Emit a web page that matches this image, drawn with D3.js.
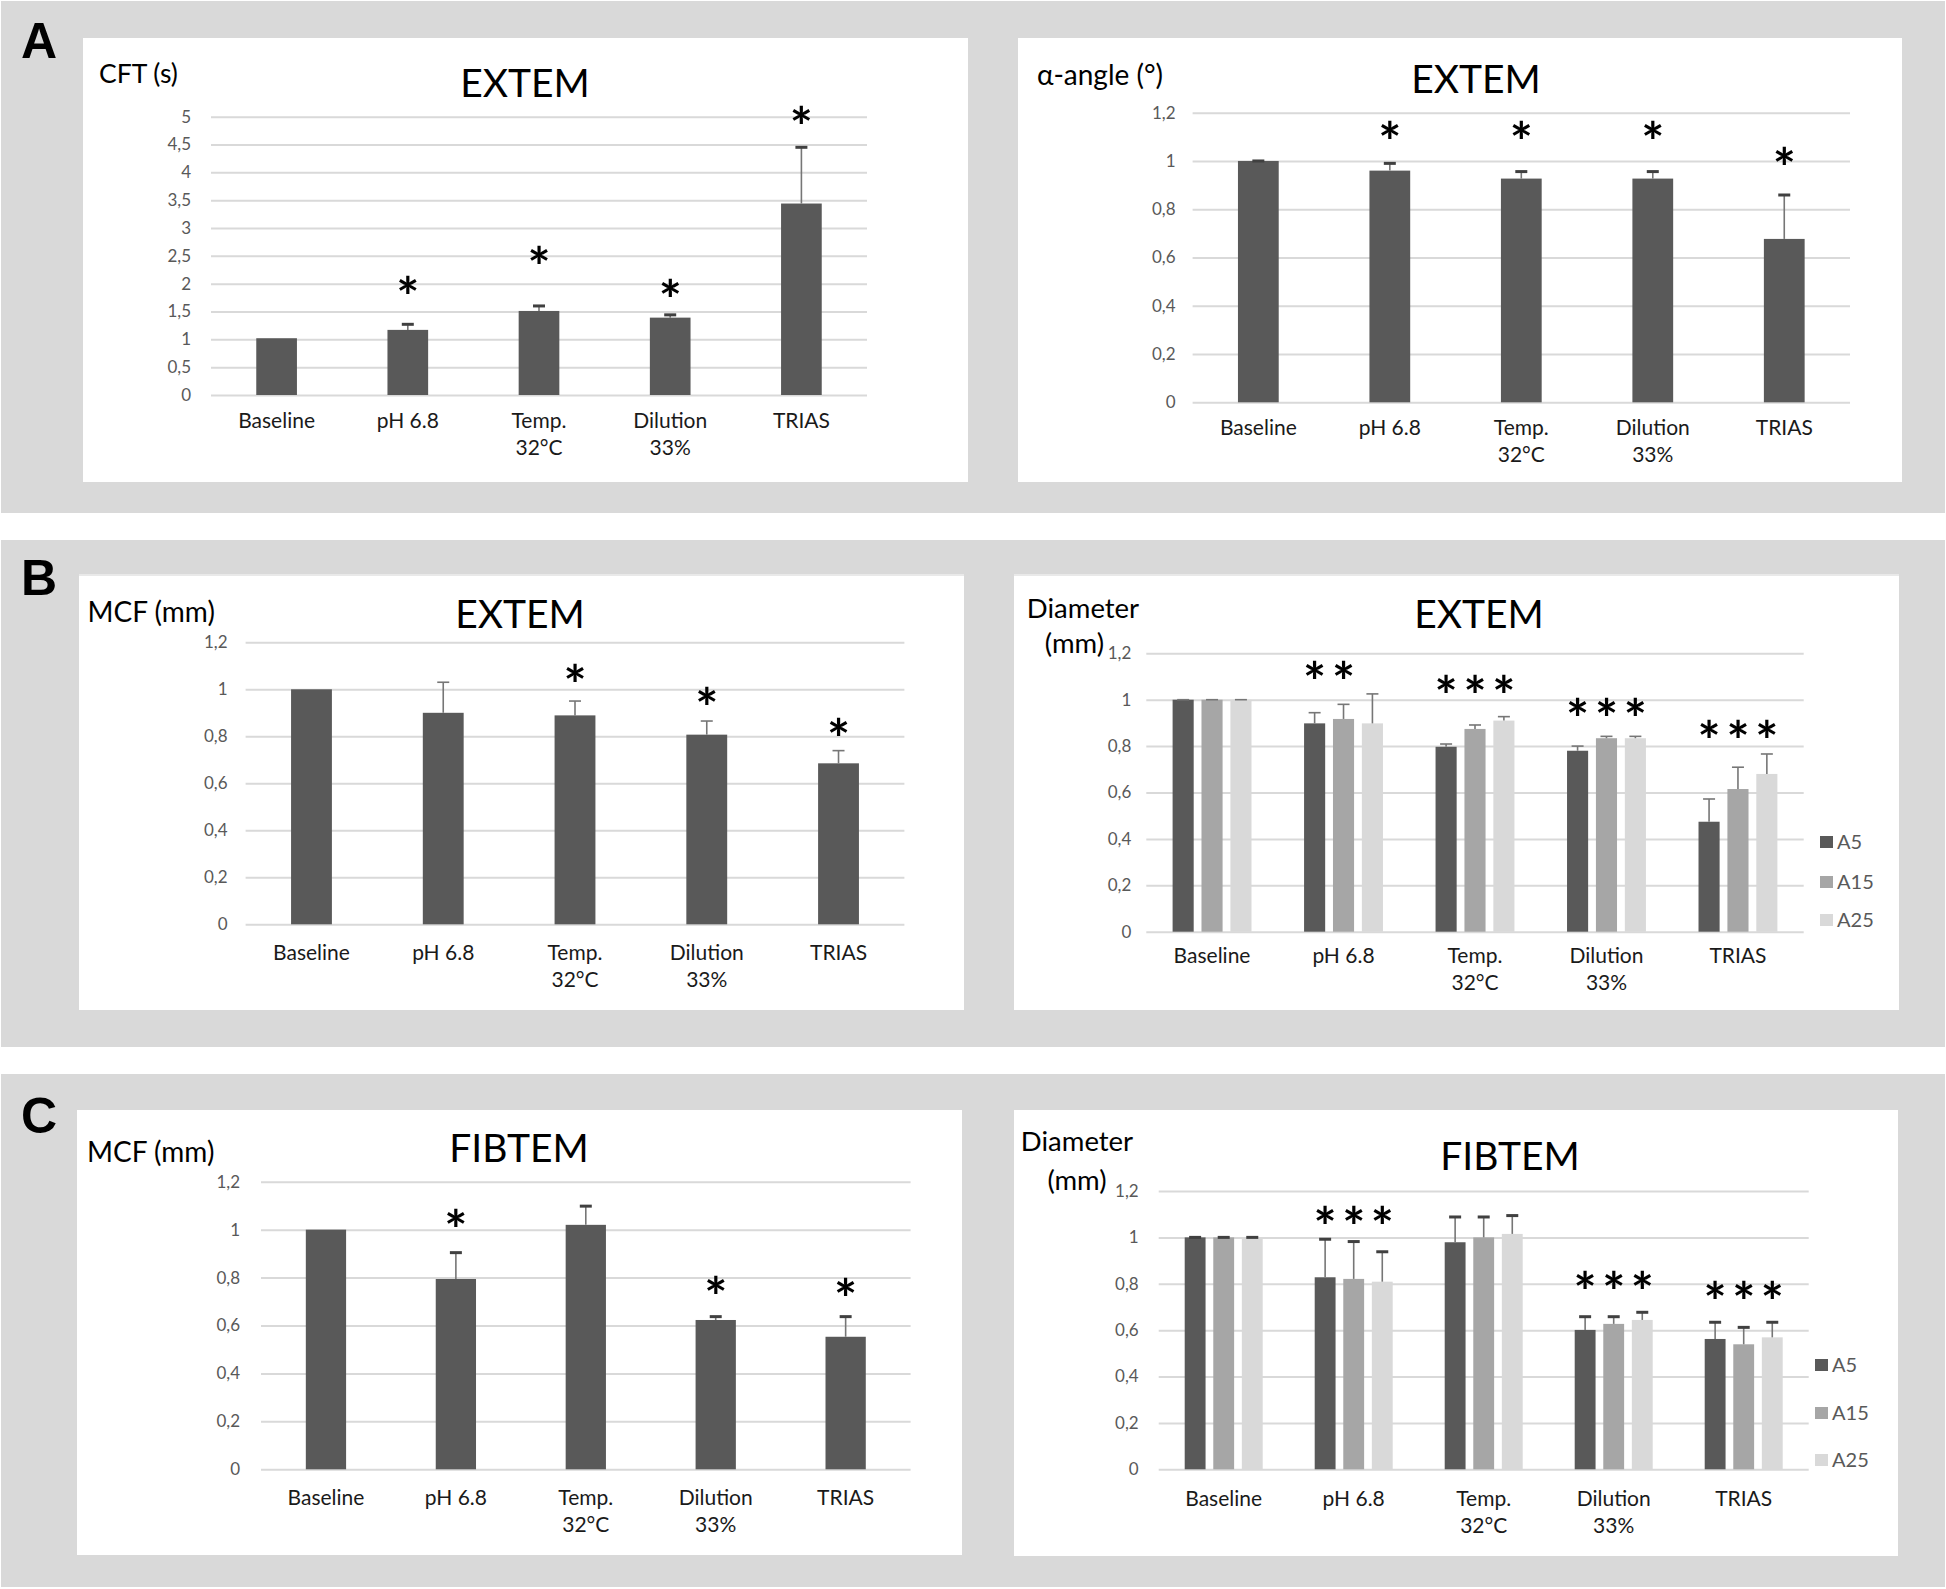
<!DOCTYPE html>
<html><head><meta charset="utf-8">
<script src="https://cdn.jsdelivr.net/npm/d3@7"></script>
<style>body{margin:0;background:#fff}</style>
</head><body><svg id="fig" width="1946" height="1589"></svg>
<script>
// ---------------- DATA ----------------
const categories = ["Baseline", "pH 6.8", "Temp.\n32°C", "Dilution\n33%", "TRIAS"];
const seriesNames = ["A5", "A15", "A25"];
const panelLetters = ["A", "B", "C"];
const cftTicks = [0, 0.5, 1, 1.5, 2, 2.5, 3, 3.5, 4, 4.5, 5];
const ratioTicks = [0, 0.2, 0.4, 0.6, 0.8, 1, 1.2];

// A left: EXTEM CFT (s)
const cftMean = [1.02, 1.17, 1.51, 1.39, 3.44];
const cftSD   = [null, 0.10, 0.09, 0.05, 1.01];
const cftStar = [null, 1.97, 2.51, 1.92, 5.03];

// A right: EXTEM alpha-angle
const alphaMean = [1.0, 0.96, 0.927, 0.927, 0.677];
const alphaSD   = [0.0, 0.03, 0.029, 0.029, 0.182];
const alphaStar = [null, 1.13, 1.13, 1.13, 1.02];

// B left: EXTEM MCF (mm)
const mcfExMean = [1.0, 0.90, 0.889, 0.807, 0.685];
const mcfExSD   = [null, 0.13, 0.061, 0.058, 0.054];
const mcfExStar = [null, null, 1.07, 0.97, 0.84];

// B right: EXTEM Diameter (mm), series A5 / A15 / A25
const diaExA5   = [1.0, 0.898, 0.797, 0.78, 0.474];
const diaExA5SD = [0.0, 0.046, 0.012, 0.02, 0.098];
const diaExA5Star = [null, 1.13, 1.066, 0.97, 0.874];
const diaExA15   = [1.0, 0.917, 0.874, 0.834, 0.615];
const diaExA15SD = [0.0, 0.063, 0.017, 0.008, 0.094];
const diaExA15Star = [null, 1.13, 1.066, 0.97, 0.874];
const diaExA25   = [1.0, 0.898, 0.91, 0.834, 0.68];
const diaExA25SD = [0.0, 0.127, 0.017, 0.008, 0.086];
const diaExA25Star = [null, null, 1.066, 0.97, 0.874];

// C left: FIBTEM MCF (mm)
const mcfFibMean = [1.0, 0.794, 1.02, 0.623, 0.553];
const mcfFibSD   = [null, 0.11, 0.078, 0.014, 0.084];
const mcfFibStar = [null, 1.047, null, 0.769, 0.762];

// C right: FIBTEM Diameter (mm)
const diaFibA5   = [1.0, 0.828, 0.979, 0.601, 0.562];
const diaFibA5SD = [0.0, 0.164, 0.109, 0.057, 0.072];
const diaFibA5Star = [null, 1.097, null, 0.816, 0.773];
const diaFibA15   = [1.0, 0.821, 1.0, 0.627, 0.539];
const diaFibA15SD = [0.0, 0.161, 0.088, 0.031, 0.073];
const diaFibA15Star = [null, 1.097, null, 0.816, 0.773];
const diaFibA25   = [1.0, 0.809, 1.015, 0.644, 0.569];
const diaFibA25SD = [0.0, 0.129, 0.079, 0.033, 0.065];
const diaFibA25Star = [null, 1.097, null, 0.816, 0.773];

// ---------------- STYLE / LAYOUT ----------------
const FONT = "Lato, 'Open Sans', 'DejaVu Sans', sans-serif";
const STAR_FONT = "Lato, 'DejaVu Sans', sans-serif";
const colors = {A5: "#595959", A15: "#a6a6a6", A25: "#d9d9d9"};
const fmtComma = d => String(d).replace(".", ",");

const svg = d3.select("#fig");
svg.append("rect").attr("width", 1946).attr("height", 1589).attr("fill", "#fff");

const rows = [[1, 513], [540, 1047], [1074, 1587]];
const letterBaselines = [58, 595, 1133];
rows.forEach((r, i) => {
  svg.append("rect").attr("x", 1).attr("y", r[0]).attr("width", 1944).attr("height", r[1] - r[0]).attr("fill", "#d9d9d9");
  svg.append("text").attr("x", 21).attr("y", letterBaselines[i])
    .attr("font-family", "'Liberation Sans', Arial, sans-serif").attr("font-weight", "bold")
    .attr("font-size", 50).attr("fill", "#000").text(panelLetters[i]);
});

// star glyph calibration (glyph height ~18px, centred on value)
const ctx = document.createElement("canvas").getContext("2d");
ctx.font = `bold 100px ${STAR_FONT}`;
const m100 = ctx.measureText("*");
const starH100 = m100.actualBoundingBoxAscent + m100.actualBoundingBoxDescent;
const STAR_SIZE = 18.5 / starH100 * 100;
const starShift = (m100.actualBoundingBoxAscent - m100.actualBoundingBoxDescent) / 2 * STAR_SIZE / 100;

function drawChart(cfg) {
  const g = svg.append("g");
  const b = cfg.box;
  g.append("rect").attr("x", b[0]).attr("y", b[1]).attr("width", b[2] - b[0]).attr("height", b[3] - b[1]).attr("fill", "#fff");
  if (cfg.topLine) g.append("line").attr("x1", b[0]).attr("x2", b[2]).attr("y1", b[1] + 1).attr("y2", b[1] + 1).attr("stroke", "#e2e2e2").attr("stroke-width", 1.5);

  const p = cfg.plot;
  const x = d3.scaleBand().domain(categories).range([p.x0, p.x1]);
  const n = cfg.series.length;
  const groupW = x.bandwidth() * (n === 1 ? 0.31 : 0.6);
  const xi = d3.scaleBand().domain(cfg.series.map(s => s.name)).range([-groupW / 2, groupW / 2]).paddingInner(n === 1 ? 0 : 0.27);
  const y = d3.scaleLinear().domain([0, d3.max(cfg.ticks)]).range([p.yZero, p.yTop]);
  const cx = (c, name) => x(c) + x.bandwidth() / 2 + xi(name) + xi.bandwidth() / 2;

  const ax = g.append("g").attr("transform", `translate(${p.x0},0)`)
    .call(d3.axisLeft(y).tickValues(cfg.ticks).tickFormat(fmtComma).tickSize(-(p.x1 - p.x0)).tickPadding(cfg.tickPad));
  ax.select(".domain").remove();
  ax.selectAll(".tick line").attr("stroke", "#d9d9d9").attr("stroke-width", 2);
  ax.selectAll(".tick text").attr("fill", "#595959").attr("font-size", 17).attr("font-family", FONT);

  // bars
  cfg.series.forEach(s => {
    g.append("g").selectAll("rect")
      .data(categories.map((c, i) => ({c, v: s.mean[i]})))
      .join("rect")
      .attr("x", d => x(d.c) + x.bandwidth() / 2 + xi(s.name))
      .attr("width", xi.bandwidth())
      .attr("y", d => y(d.v))
      .attr("height", d => y(0) - y(d.v))
      .attr("fill", s.color);
  });
  // error bars
  cfg.series.forEach(s => {
    const eg = g.append("g");
    const ed = categories.map((c, i) => ({c, v: s.mean[i], sd: s.sd[i]})).filter(d => d.sd !== null);
    eg.selectAll("line.v").data(ed).join("line").attr("class", "v")
      .attr("x1", d => cx(d.c, s.name)).attr("x2", d => cx(d.c, s.name))
      .attr("y1", d => y(d.v)).attr("y2", d => y(d.v + d.sd))
      .attr("stroke", "#767676").attr("stroke-width", 1.6);
    eg.selectAll("line.cap").data(ed).join("line").attr("class", "cap")
      .attr("x1", d => cx(d.c, s.name) - 6).attr("x2", d => cx(d.c, s.name) + 6)
      .attr("y1", d => y(d.v + d.sd)).attr("y2", d => y(d.v + d.sd))
      .attr("stroke", cfg.capColor).attr("stroke-width", cfg.capWidth);
  });
  // significance stars
  cfg.series.forEach(s => {
    g.append("g").selectAll("text")
      .data(categories.map((c, i) => ({c, st: s.star[i]})).filter(d => d.st !== null))
      .join("text")
      .attr("x", d => cx(d.c, s.name)).attr("y", d => y(d.st) + starShift)
      .attr("text-anchor", "middle").attr("font-family", STAR_FONT).attr("font-weight", "bold")
      .attr("font-size", STAR_SIZE).attr("fill", "#000").text("*");
  });
  // category labels
  const cl = g.append("g").selectAll("text").data(categories).join("text")
    .attr("x", c => x(c) + x.bandwidth() / 2).attr("y", p.yZero + cfg.catOff)
    .attr("text-anchor", "middle").attr("font-family", FONT).attr("font-size", 21).attr("fill", "#1a1a1a");
  cl.selectAll("tspan").data(c => c.split("\n").map(t => ({t, x: x(c) + x.bandwidth() / 2}))).join("tspan")
    .attr("x", d => d.x).attr("dy", (d, i) => i === 0 ? 0 : 27).text(d => d.t);

  // title
  g.append("text").attr("x", cfg.title.x).attr("y", cfg.title.y).attr("text-anchor", "middle")
    .attr("font-family", FONT).attr("font-size", 39).attr("fill", "#000").text(cfg.title.text);

  // y-axis label (one text per line)
  const gap = cfg.ylab.gap || 0;
  cfg.ylab.lines.forEach((ln, i) => {
    const xs = cfg.ylab.xs ? cfg.ylab.xs[i] : cfg.ylab.x;
    const an = cfg.ylab.anchors ? cfg.ylab.anchors[i] : cfg.ylab.anchor;
    g.append("text").attr("x", xs).attr("y", cfg.ylab.y + i * gap)
      .attr("font-family", FONT).attr("font-size", cfg.ylab.size).attr("fill", "#000")
      .attr("text-anchor", an).text(ln);
  });

  // legend
  if (cfg.legend) {
    cfg.series.forEach((s, j) => {
      g.append("rect").attr("x", cfg.legend.x).attr("y", cfg.legend.ys[j] - 6).attr("width", 13).attr("height", 12).attr("fill", s.color);
      g.append("text").attr("x", cfg.legend.tx).attr("y", cfg.legend.ys[j]).attr("dy", "0.36em")
        .attr("font-family", FONT).attr("font-size", 20).attr("fill", "#595959").text(s.name);
    });
  }
}

const single = (mean, sd, star) => [{name: "v", color: "#595959", mean, sd, star}];
const triple = (m, s, st) => seriesNames.map((nm, j) => ({name: nm, color: colors[nm], mean: m[j], sd: s[j], star: st[j]}));

drawChart({box: [83, 38, 968, 482], plot: {x0: 211, x1: 867, yZero: 395, yTop: 116.7}, ticks: cftTicks, tickPad: 20,
  series: single(cftMean, cftSD, cftStar), catOff: 33, capColor: "#404040", capWidth: 3,
  title: {text: "EXTEM", x: 525, y: 97}, ylab: {lines: ["CFT (s)"], x: 99, y: 83, anchor: "start", size: 26.5}});

drawChart({box: [1018, 38, 1902, 482], plot: {x0: 1192.6, x1: 1850, yZero: 402.3, yTop: 112.7}, ticks: ratioTicks, tickPad: 17,
  series: single(alphaMean, alphaSD, alphaStar), catOff: 33, capColor: "#404040", capWidth: 3,
  title: {text: "EXTEM", x: 1476, y: 93}, ylab: {lines: ["α-angle (°)"], x: 1037, y: 85, anchor: "start", size: 28}});

drawChart({box: [79, 574, 964, 1010], topLine: true, plot: {x0: 245.6, x1: 904.4, yZero: 924.3, yTop: 642.3}, ticks: ratioTicks, tickPad: 18,
  series: single(mcfExMean, mcfExSD, mcfExStar), catOff: 36, capColor: "#767676", capWidth: 1.6,
  title: {text: "EXTEM", x: 520, y: 628}, ylab: {lines: ["MCF (mm)"], x: 87.5, y: 622, anchor: "start", size: 28}});

drawChart({box: [1014, 574, 1899, 1010], topLine: true, plot: {x0: 1146.3, x1: 1803.7, yZero: 931.7, yTop: 653.3}, ticks: ratioTicks, tickPad: 15,
  series: triple([diaExA5, diaExA15, diaExA25], [diaExA5SD, diaExA15SD, diaExA25SD], [diaExA5Star, diaExA15Star, diaExA25Star]),
  catOff: 31, capColor: "#767676", capWidth: 1.6,
  title: {text: "EXTEM", x: 1479, y: 628},
  ylab: {lines: ["Diameter", "(mm)"], xs: [1083, 1104], anchors: ["middle", "end"], y: 618, gap: 35, size: 27.5},
  legend: {x: 1820, tx: 1837, ys: [842, 882, 920]}});

drawChart({box: [77, 1110, 962, 1555], plot: {x0: 261, x1: 910.6, yZero: 1469.3, yTop: 1181.7}, ticks: ratioTicks, tickPad: 21,
  series: single(mcfFibMean, mcfFibSD, mcfFibStar), catOff: 36, capColor: "#404040", capWidth: 3,
  title: {text: "FIBTEM", x: 519, y: 1162}, ylab: {lines: ["MCF (mm)"], x: 87, y: 1162, anchor: "start", size: 28}});

drawChart({box: [1014, 1110, 1898, 1556], plot: {x0: 1158.7, x1: 1808.7, yZero: 1469.3, yTop: 1191}, ticks: ratioTicks, tickPad: 20,
  series: triple([diaFibA5, diaFibA15, diaFibA25], [diaFibA5SD, diaFibA15SD, diaFibA25SD], [diaFibA5Star, diaFibA15Star, diaFibA25Star]),
  catOff: 37, capColor: "#404040", capWidth: 3,
  title: {text: "FIBTEM", x: 1510, y: 1170},
  ylab: {lines: ["Diameter", "(mm)"], x: 1077, y: 1151, gap: 39, anchor: "middle", size: 27.5},
  legend: {x: 1815, tx: 1832, ys: [1365, 1413, 1460]}});
</script></body></html>
